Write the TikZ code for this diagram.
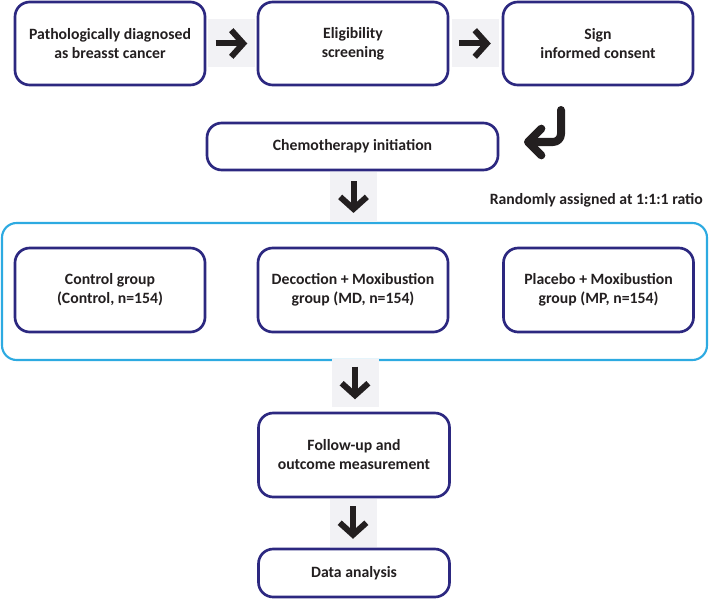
\documentclass[tikz,border=0pt]{standalone}
\usepackage{fontspec}
\setmainfont{Carlito}
\usetikzlibrary{arrows.meta}

\definecolor{boxblue}{RGB}{44,40,128}
\definecolor{frameblue}{RGB}{45,170,225}
\definecolor{squaregrey}{RGB}{242,242,245}
\definecolor{inkblack}{RGB}{35,31,32}

\tikzset{
  box/.style={draw=boxblue, line width=2pt, rounded corners=11pt, fill=white,
    align=center, inner sep=0pt, text=inkblack,
    font=\bfseries\fontsize{11.8}{14.25}\selectfont},
  square/.style={fill=squaregrey, inner sep=0pt, minimum width=35.25pt, minimum height=36pt},
  bigarrow/.style={draw=inkblack, line width=4.5pt,
    -{Straight Barb[length=9pt,width=20pt]}},
  bendarrow/.style={draw=inkblack, line width=6pt, line cap=round, line join=round, rounded corners=6pt,
    -{Straight Barb[length=10pt,width=20pt,round]}}
}

\begin{document}
\begin{tikzpicture}[x=0.75pt,y=0.75pt,yscale=-1,xscale=1]
  \useasboundingbox (0,0) rectangle (709,599);

  %Shape: outer frame of the three groups
  \node [draw=frameblue, line width=1.6pt, rounded corners=11pt, minimum width=528.75pt, minimum height=102.75pt] (frame) at (354.5,291.5) {};

  %Top row
  \node [box, minimum width=142.5pt, minimum height=62.25pt] (diagnosed) at (110,43.5) {Pathologically diagnosed\\as breasst cancer};
  \node [box, minimum width=142.5pt, minimum height=62.25pt] (screening) at (353,43.5) {Eligibility\\screening};
  \node [box, minimum width=142.5pt, minimum height=62.25pt] (consent) at (598,43.5) {Sign\\informed consent};

  %Chemotherapy
  \node [box, minimum width=218.25pt, minimum height=35.25pt] (chemo) at (352.5,146.5) {Chemotherapy initiation};

  % Text Node
  \node [text=inkblack, font=\bfseries\fontsize{11.8}{14.25}\selectfont, anchor=east, inner sep=0pt] (ratio) at (703,200) {Randomly assigned at 1:1:1 ratio};

  %Groups
  \node [box, minimum width=142.5pt, minimum height=63pt] (control) at (110,290) {Control group\\(Control, n=154)};
  \node [box, minimum width=142.5pt, minimum height=63pt] (decoction) at (353,290) {Decoction + Moxibustion\\group (MD, n=154)};
  \node [box, minimum width=142.5pt, minimum height=63pt] (placebo) at (598.5,290) {Placebo + Moxibustion\\group (MP, n=154)};

  %Bottom
  \node [box, minimum width=143.25pt, minimum height=63pt] (followup) at (354,455) {Follow-up and\\outcome measurement};
  \node [box, minimum width=143.25pt, minimum height=36pt] (analysis) at (354,573) {Data analysis};

  %Grey squares with the arrows
  \node [square] (sqa) at (231.5,43.5) {};
  \node [square] (sqb) at (475,43.5) {};
  \node [square, minimum height=37.5pt] (sqc) at (353.5,197) {};
  \node [square] (sqd) at (355,383) {};
  \node [square] (sqe) at (353,522.5) {};

  \draw [bigarrow] ([xshift=6pt]sqa.west) -- ([xshift=-6pt]sqa.east);
  \draw [bigarrow] ([xshift=6pt]sqb.west) -- ([xshift=-6pt]sqb.east);
  \draw [bigarrow] ([yshift=7pt]sqc.north) -- ([yshift=-7pt]sqc.south);
  \draw [bigarrow] ([yshift=6pt]sqd.north) -- ([yshift=-6pt]sqd.south);
  \draw [bigarrow] ([yshift=6pt]sqe.north) -- ([yshift=-6pt]sqe.south);

  %Bent arrow
  \coordinate (bendtop) at (561,110);
  \coordinate (bendend) at (524,142);
  \draw [bendarrow] (bendtop) |- (bendend);

\end{tikzpicture}
\end{document}
